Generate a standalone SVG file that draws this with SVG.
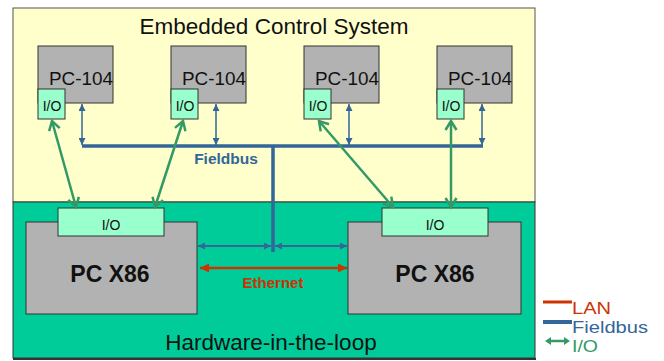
<svg xmlns="http://www.w3.org/2000/svg" width="664" height="361" viewBox="0 0 664 361">
<style>
text{font-family:"Liberation Sans",Arial,sans-serif}
.pc{fill:#b2b2b2;stroke:#333;stroke-width:1}
.io{fill:#99ffcc;stroke:#333;stroke-width:1}
.t104{font-size:18px;fill:#111}
.tio{font-size:14px;fill:#111;text-anchor:middle}
.x86{font-size:23px;font-weight:bold;fill:#111;text-anchor:middle}
.fb{stroke:#336699;fill:none}
.gr{stroke:#339966;stroke-width:2.5;fill:none;marker-start:url(#gh);marker-end:url(#gh)}
</style>
<defs>
<marker id="bh" markerUnits="userSpaceOnUse" markerWidth="8" markerHeight="7" refX="7" refY="3.5" orient="auto-start-reverse"><path d="M0,0 L7,3.5 L0,7 z" fill="#336699"/></marker>
<marker id="rh" markerUnits="userSpaceOnUse" markerWidth="10" markerHeight="9" refX="9" refY="4.5" orient="auto-start-reverse"><path d="M0,0 L9,4.5 L0,9 z" fill="#cc3300"/></marker>
<marker id="gh" markerUnits="userSpaceOnUse" markerWidth="14" markerHeight="14" refX="11" refY="7" orient="auto-start-reverse"><path d="M2,1.5 L11,7 L2,12.5" fill="none" stroke="#339966" stroke-width="2.5"/></marker>
</defs>
<g id="embedded">
<rect x="13" y="8" width="522" height="194" fill="#ffffcc" stroke="#555" stroke-width="1"/>
<text x="274" y="34" font-size="22.5" text-anchor="middle" fill="#111">Embedded Control System</text>
</g>
<g id="hil">
<rect x="13" y="202" width="522" height="156" fill="#00cc99" stroke="#333" stroke-width="1"/>
<line x1="13" y1="359" x2="536" y2="359" stroke="#333" stroke-width="2"/>
<text x="271" y="350" font-size="22.5" text-anchor="middle" fill="#111">Hardware-in-the-loop</text>
</g>
<g id="pc104-1">
<rect class="pc" x="38" y="46" width="75" height="57"/>
<text class="t104" x="49" y="85" textLength="64" lengthAdjust="spacingAndGlyphs">PC-104</text>
<rect class="io" x="38" y="89" width="27" height="30"/>
<text class="tio" x="52" y="111">I/O</text>
</g>
<g id="pc104-2">
<rect class="pc" x="171" y="46" width="75" height="57"/>
<text class="t104" x="182" y="85" textLength="64" lengthAdjust="spacingAndGlyphs">PC-104</text>
<rect class="io" x="171" y="89" width="27" height="30"/>
<text class="tio" x="185" y="111">I/O</text>
</g>
<g id="pc104-3">
<rect class="pc" x="304" y="46" width="75" height="57"/>
<text class="t104" x="315" y="85" textLength="64" lengthAdjust="spacingAndGlyphs">PC-104</text>
<rect class="io" x="304" y="89" width="27" height="30"/>
<text class="tio" x="318" y="111">I/O</text>
</g>
<g id="pc104-4">
<rect class="pc" x="437" y="46" width="75" height="57"/>
<text class="t104" x="448" y="85" textLength="64" lengthAdjust="spacingAndGlyphs">PC-104</text>
<rect class="io" x="437" y="89" width="27" height="30"/>
<text class="tio" x="451" y="111">I/O</text>
</g>
<g id="pcx86-left">
<rect class="pc" x="26" y="222" width="171" height="92"/>
<rect class="io" x="58" y="208" width="106" height="28"/>
<text class="tio" x="111" y="230" font-size="13">I/O</text>
<text class="x86" x="110" y="282">PC X86</text>
</g>
<g id="pcx86-right">
<rect class="pc" x="348" y="222" width="173" height="92"/>
<rect class="io" x="382" y="208" width="106" height="28"/>
<text class="tio" x="435" y="230" font-size="13">I/O</text>
<text class="x86" x="435" y="282">PC X86</text>
</g>
<g id="connectors">
<line class="fb" x1="82" y1="146" x2="483" y2="146" stroke-width="3.5"/>
<line class="fb" x1="273" y1="146" x2="273" y2="252" stroke-width="3.5"/>
<line class="fb" x1="82" y1="104" x2="82" y2="145" stroke-width="1.5" marker-start="url(#bh)" marker-end="url(#bh)"/>
<line class="fb" x1="216" y1="104" x2="216" y2="145" stroke-width="1.5" marker-start="url(#bh)" marker-end="url(#bh)"/>
<line class="fb" x1="349" y1="104" x2="349" y2="145" stroke-width="1.5" marker-start="url(#bh)" marker-end="url(#bh)"/>
<line class="fb" x1="482" y1="104" x2="482" y2="145" stroke-width="1.5" marker-start="url(#bh)" marker-end="url(#bh)"/>
<line class="fb" x1="198" y1="246" x2="271" y2="246" stroke-width="2" marker-start="url(#bh)" marker-end="url(#bh)"/>
<line class="fb" x1="275" y1="246" x2="347" y2="246" stroke-width="2" marker-start="url(#bh)" marker-end="url(#bh)"/>
<line x1="200" y1="268" x2="347" y2="268" stroke="#cc3300" stroke-width="2.5" marker-start="url(#rh)" marker-end="url(#rh)"/>
<line class="gr" x1="52" y1="121" x2="76" y2="207"/>
<line class="gr" x1="183" y1="121" x2="155" y2="207"/>
<line class="gr" x1="319" y1="121" x2="393" y2="207"/>
<line class="gr" x1="451" y1="121" x2="451" y2="207"/>
<text x="226" y="164" font-size="15.5" font-weight="bold" fill="#336699" text-anchor="middle">Fieldbus</text>
<text x="273" y="288" font-size="15" font-weight="bold" fill="#cc3300" text-anchor="middle">Ethernet</text>
</g>
<g id="legend">
<line x1="543" y1="302" x2="572" y2="302" stroke="#cc3300" stroke-width="3"/>
<text x="572" y="314" font-size="16.5" fill="#cc3300" textLength="39" lengthAdjust="spacingAndGlyphs">LAN</text>
<line x1="543" y1="322" x2="572" y2="322" stroke="#336699" stroke-width="4"/>
<text x="572" y="333" font-size="16.5" fill="#336699" textLength="76" lengthAdjust="spacingAndGlyphs">Fieldbus</text>
<line x1="550" y1="341" x2="565" y2="341" stroke="#339966" stroke-width="2.5"/>
<path d="M545,341 L551,337 L551,345 z M570,341 L564,337 L564,345 z" fill="#339966"/>
<text x="572" y="352" font-size="16.5" fill="#339966" textLength="26" lengthAdjust="spacingAndGlyphs">I/O</text>
</g>
</svg>
